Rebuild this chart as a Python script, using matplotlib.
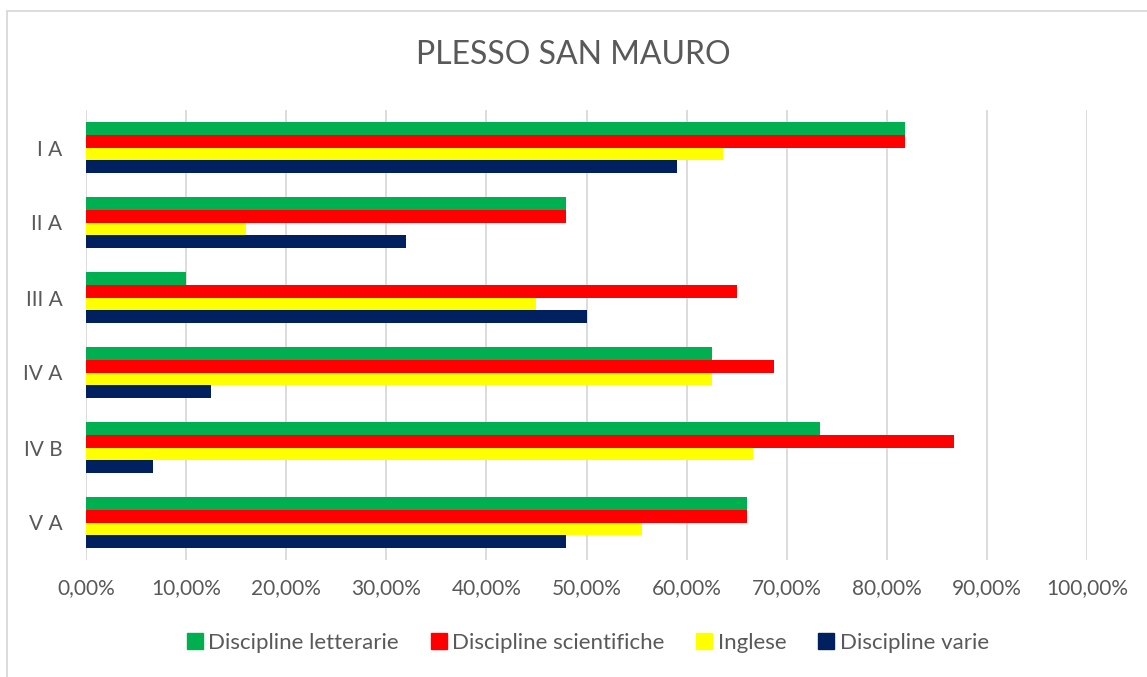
import matplotlib.pyplot as plt
from matplotlib.lines import Line2D
from matplotlib.ticker import FuncFormatter, MultipleLocator

# Classes and the share of each discipline group (percent)
classes = ["I A", "II A", "III A", "IV A", "IV B", "V A"]
series_names = ["Discipline letterarie", "Discipline scientifiche", "Inglese", "Discipline varie"]
letterarie = [81.82, 48.0, 10.0, 62.5, 73.33, 66.0]
scientifiche = [81.82, 48.0, 65.0, 68.75, 86.67, 66.0]
inglese = [63.64, 16.0, 45.0, 62.5, 66.67, 55.5]
varie = [59.09, 32.0, 50.0, 12.5, 6.67, 48.0]
colors = ["#00B050", "#FF0000", "#FFFF00", "#002060"]

text_color = "#595959"
plt.rcParams["font.family"] = ["Lato", "DejaVu Sans"]

fig = plt.figure(figsize=(11.47, 6.77), dpi=100)
ax = fig.add_axes([86 / 1147, 1 - 560 / 677, 1001 / 1147, 450 / 677])

bar_h = 0.17
all_series = [letterarie, scientifiche, inglese, varie]
for i, (vals, name, col) in enumerate(zip(all_series, series_names, colors)):
    offset = (i - 1.5) * bar_h
    ypos = [k + offset for k in range(len(classes))]
    ax.barh(ypos, vals, height=bar_h, color=col, label=name, zorder=3)

ax.set_xlim(0, 100)
ax.set_ylim(len(classes) - 0.5, -0.5)
ax.set_yticks(range(len(classes)))
ax.set_yticklabels(classes)
ax.xaxis.set_major_locator(MultipleLocator(10))
ax.xaxis.set_major_formatter(FuncFormatter(lambda v, p: f"{v:.2f}%".replace(".", ",")))

ax.grid(axis="x", color="#D9D9D9", linewidth=1.3, zorder=0)
for s in ax.spines.values():
    s.set_visible(False)
ax.tick_params(axis="both", length=0, labelsize=15, colors=text_color)
ax.tick_params(axis="x", pad=13)
ax.tick_params(axis="y", pad=17)

fig.text(0.5, 1 - 55 / 677, "PLESSO SAN MAURO", ha="center", va="center",
         fontsize=23, color=text_color)

handles = [Line2D([], [], marker="s", linestyle="none", markersize=11,
                  markerfacecolor=c, markeredgecolor=c) for c in colors]
fig.legend(handles, series_names, loc="center", bbox_to_anchor=(0.511, 1 - 643 / 677),
           ncol=4, frameon=False, fontsize=16, labelcolor=text_color,
           handletextpad=0.1, columnspacing=1.3, handlelength=1.0)

# chart border (left and top edges visible)
fig.add_artist(Line2D([7 / 1147, 7 / 1147], [0, 1 - 11 / 677], color="#D9D9D9",
                      linewidth=1.3, transform=fig.transFigure))
fig.add_artist(Line2D([7 / 1147, 1], [1 - 11 / 677, 1 - 11 / 677], color="#D9D9D9",
                      linewidth=1.3, transform=fig.transFigure))

fig.savefig("out.png", dpi=100)
